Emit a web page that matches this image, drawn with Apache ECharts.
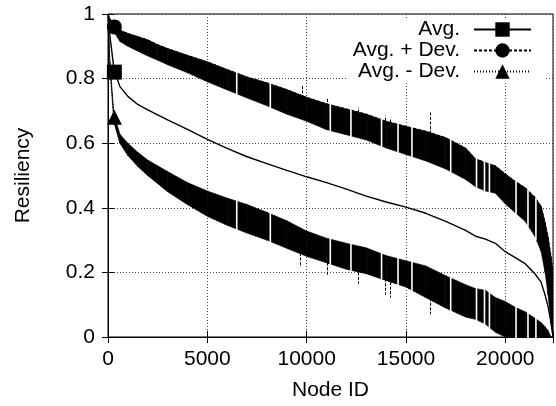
<!DOCTYPE html>
<html>
<head>
<meta charset="utf-8">
<script src="https://cdn.jsdelivr.net/npm/echarts@6/dist/echarts.min.js"></script>
<style>
html,body{margin:0;padding:0;background:#fff;}
#chart{width:556px;height:406px;}
</style>
</head>
<body>
<div id="chart"></div>
<script>
// ---- data ----
const nodeIds = [0, 100, 300, 600, 1000, 1500, 2000, 2500, 3000, 4000, 5000, 6000, 7000, 8000, 9000, 10000, 11000, 12000, 13000, 14000, 15000, 16000, 17000, 18000, 18500, 19000, 19500, 20000, 20500, 21000, 21500, 21800, 22000, 22150, 22300, 22400];
const avg = [1.0, 0.93, 0.83, 0.775, 0.745, 0.72, 0.703, 0.688, 0.672, 0.643, 0.612, 0.584, 0.558, 0.537, 0.516, 0.496, 0.478, 0.458, 0.436, 0.418, 0.402, 0.383, 0.358, 0.33, 0.312, 0.303, 0.29, 0.264, 0.246, 0.227, 0.195, 0.17, 0.13, 0.095, 0.045, 0.0];
const plusDevTop = [1.0, 0.985, 0.968, 0.95, 0.94, 0.93, 0.92, 0.905, 0.893, 0.872, 0.852, 0.828, 0.805, 0.787, 0.766, 0.742, 0.722, 0.706, 0.69, 0.668, 0.652, 0.637, 0.617, 0.585, 0.552, 0.54, 0.53, 0.505, 0.482, 0.462, 0.432, 0.405, 0.355, 0.31, 0.25, 0.2];
const plusDevBottom = [1.0, 0.97, 0.945, 0.915, 0.9, 0.885, 0.87, 0.857, 0.843, 0.818, 0.79, 0.765, 0.74, 0.716, 0.69, 0.668, 0.642, 0.626, 0.61, 0.585, 0.565, 0.545, 0.52, 0.488, 0.465, 0.452, 0.445, 0.412, 0.385, 0.358, 0.31, 0.265, 0.2, 0.13, 0.04, 0.0];
const minusDevTop = [1.0, 0.85, 0.69, 0.628, 0.6, 0.572, 0.548, 0.53, 0.512, 0.478, 0.452, 0.43, 0.41, 0.386, 0.36, 0.328, 0.306, 0.29, 0.276, 0.252, 0.236, 0.22, 0.19, 0.162, 0.15, 0.145, 0.122, 0.11, 0.092, 0.078, 0.058, 0.045, 0.032, 0.02, 0.0, 0.0];
const minusDevBottom = [1.0, 0.83, 0.665, 0.6, 0.562, 0.528, 0.5, 0.475, 0.45, 0.41, 0.374, 0.346, 0.322, 0.3, 0.275, 0.25, 0.23, 0.21, 0.196, 0.175, 0.155, 0.122, 0.09, 0.062, 0.055, 0.04, 0.015, 0.0, 0.0, 0.0, 0.0, 0.0, 0.0, 0.0, 0.0, 0.0];
// outlying spikes: [node, from, to]
const plusDevSpikes = [[9770, 0.74, 0.78], [11020, 0.70, 0.74], [12560, 0.68, 0.71], [13960, 0.655, 0.685], [14200, 0.65, 0.675], [16200, 0.63, 0.70]];
const minusDevSpikes = [[9650, 0.26, 0.217], [11020, 0.23, 0.193], [12560, 0.2, 0.165], [13960, 0.18, 0.131], [14200, 0.17, 0.122], [16200, 0.12, 0.07], [19000, 0.086, 0.043]];
// nodes where the bands show thin white gaps
const bandGaps = [6480, 8170, 11190, 12230, 13770, 14600, 15300, 17250, 18550, 18950, 19200, 20540, 21140, 21540];
// legend markers (one point per series)
const markerNode = 320;
const markerValues = [0.82, 0.96, 0.68];
const seriesNames = ['Avg.', 'Avg. + Dev.', 'Avg. - Dev.'];
const xTicks = [0, 5000, 10000, 15000, 20000];
const yTicks = [0, 0.2, 0.4, 0.6, 0.8, 1];

// ---- chart ----
const FONT = "'Liberation Sans', Arial, Helvetica, sans-serif";
const chart = echarts.init(document.getElementById('chart'), null, {renderer: 'canvas'});

function interp(arr, x) {
  for (let i = 0; i < nodeIds.length - 1; i++) {
    if (x >= nodeIds[i] && x <= nodeIds[i + 1]) {
      const t = (x - nodeIds[i]) / (nodeIds[i + 1] - nodeIds[i]);
      return arr[i] + t * (arr[i + 1] - arr[i]);
    }
  }
  return arr[arr.length - 1];
}

function bandSeries(top, bottom) {
  return {
    type: 'custom',
    silent: true,
    z: 2,
    data: nodeIds.map((x, i) => [x, top[i], bottom[i]]),
    clip: true,
    renderItem: function (params, api) {
      const i = params.dataIndex;
      if (i >= nodeIds.length - 1) return null;
      const p1 = api.coord([nodeIds[i], top[i]]);
      const p2 = api.coord([nodeIds[i + 1], top[i + 1]]);
      const p3 = api.coord([nodeIds[i + 1], bottom[i + 1]]);
      const p4 = api.coord([nodeIds[i], bottom[i]]);
      return {
        type: 'polygon',
        shape: {points: [p1, p2, p3, p4]},
        style: {fill: '#000', stroke: '#000', lineWidth: 0.6}
      };
    }
  };
}

function spikeSeries(spikes, dash) {
  return {
    type: 'custom',
    silent: true,
    z: 3,
    data: spikes,
    renderItem: function (params, api) {
      const a = api.coord([api.value(0), api.value(1)]);
      const b = api.coord([api.value(0), api.value(2)]);
      const x = Math.round(a[0]) + 0.5;
      return {
        type: 'line',
        shape: {x1: x, y1: a[1], x2: x, y2: b[1]},
        style: {stroke: '#000', lineWidth: 1, lineDash: dash}
      };
    }
  };
}

const gapSeries = {
  type: 'custom',
  silent: true,
  z: 4,
  data: bandGaps.map(x => [x]),
  renderItem: function (params, api) {
    const x = api.value(0);
    const children = [];
    [[plusDevTop, plusDevBottom], [minusDevTop, minusDevBottom]].forEach(function (b) {
      const a = api.coord([x, interp(b[0], x)]);
      const c = api.coord([x, interp(b[1], x)]);
      children.push({
        type: 'rect',
        shape: {x: a[0] - 0.8, y: a[1] - 1, width: 1.6, height: c[1] - a[1] + 2},
        style: {fill: '#fff'}
      });
    });
    return {type: 'group', children: children};
  }
};

const markerSymbols = ['rect', 'circle', 'triangle'];
const lineTypes = ['solid', [3, 2], [1, 2]];

const option = {
  animation: false,
  backgroundColor: '#fff',
  textStyle: {fontFamily: FONT, color: '#000'},
  grid: {left: 108, top: 14, right: -1, bottom: 65, show: true, borderColor: '#000', borderWidth: 1, backgroundColor: 'transparent'},
  legend: {
    orient: 'vertical',
    align: 'right',
    right: 11,
    top: 18,
    padding: [1, 13, 0, 6],
    backgroundColor: '#fff',
    itemWidth: 57,
    itemHeight: 18,
    itemGap: 0,
    selectedMode: false,
    data: seriesNames,
    textStyle: {fontFamily: FONT, fontSize: 21, color: '#000', lineHeight: 21, padding: [0, 9, 0, 0]}
  },
  xAxis: [{
    type: 'value', min: 0, max: 22400, interval: 5000,
    name: 'Node ID', nameLocation: 'middle', nameGap: 43,
    nameTextStyle: {fontFamily: FONT, fontSize: 21, color: '#000'},
    axisLine: {show: true, onZero: false, lineStyle: {color: '#000', width: 1}},
    axisTick: {show: true, inside: true, length: 6, lineStyle: {color: '#000'}},
    axisLabel: {fontFamily: FONT, fontSize: 21, color: '#000', margin: 12,
      formatter: v => (xTicks.indexOf(v) >= 0 ? String(v) : '')},
    splitLine: {show: true, lineStyle: {color: '#444', type: [1, 2], width: 1}}
  }, {
    type: 'value', min: 0, max: 22400, interval: 5000, position: 'top',
    axisLine: {show: false},
    axisTick: {show: true, inside: true, length: 6, lineStyle: {color: '#000'}},
    axisLabel: {show: false}, splitLine: {show: false}
  }],
  yAxis: [{
    type: 'value', min: 0, max: 1, interval: 0.2,
    name: 'Resiliency', nameLocation: 'middle', nameGap: 74, nameRotate: 90,
    nameTextStyle: {fontFamily: FONT, fontSize: 21, color: '#000'},
    axisLine: {show: true, lineStyle: {color: '#000', width: 1}},
    axisTick: {show: true, inside: true, length: 6, lineStyle: {color: '#000'}},
    axisLabel: {fontFamily: FONT, fontSize: 21, color: '#000', margin: 13,
      formatter: v => (yTicks.indexOf(Math.round(v * 10) / 10) >= 0 ? String(Math.round(v * 10) / 10) : '')},
    splitLine: {show: true, lineStyle: {color: '#444', type: [1, 2], width: 1}}
  }, {
    type: 'value', min: 0, max: 1, interval: 0.2, position: 'right',
    axisLine: {show: false},
    axisTick: {show: true, inside: true, length: 6, lineStyle: {color: '#000'}},
    axisLabel: {show: false}, splitLine: {show: false}
  }],
  series: [
    bandSeries(plusDevTop, plusDevBottom),
    bandSeries(minusDevTop, minusDevBottom),
    spikeSeries(plusDevSpikes, [3, 1.5]),
    spikeSeries(minusDevSpikes, [3, 1.5]),
    gapSeries,
    {
      name: seriesNames[0], type: 'line', z: 5, symbol: markerSymbols[0], showSymbol: false,
      data: nodeIds.map((x, i) => [x, avg[i]]),
      lineStyle: {color: '#000', width: 1.4, type: lineTypes[0]}, itemStyle: {color: '#000'}
    },
    {
      name: seriesNames[1], type: 'line', z: 3, symbol: markerSymbols[1], showSymbol: false,
      data: nodeIds.map((x, i) => [x, plusDevTop[i]]),
      lineStyle: {color: '#000', width: 1, type: lineTypes[1]}, itemStyle: {color: '#000'}
    },
    {
      name: seriesNames[2], type: 'line', z: 3, symbol: markerSymbols[2], showSymbol: false,
      data: nodeIds.map((x, i) => [x, minusDevBottom[i]]),
      lineStyle: {color: '#000', width: 1, type: lineTypes[2]}, itemStyle: {color: '#000'}
    },
    {
      type: 'scatter', z: 6, silent: true,
      data: markerValues.map((v, i) => ({value: [markerNode, v], symbol: markerSymbols[i], symbolSize: 15})),
      itemStyle: {color: '#000', opacity: 1}
    }
  ]
};
chart.setOption(option);
</script>
</body>
</html>
